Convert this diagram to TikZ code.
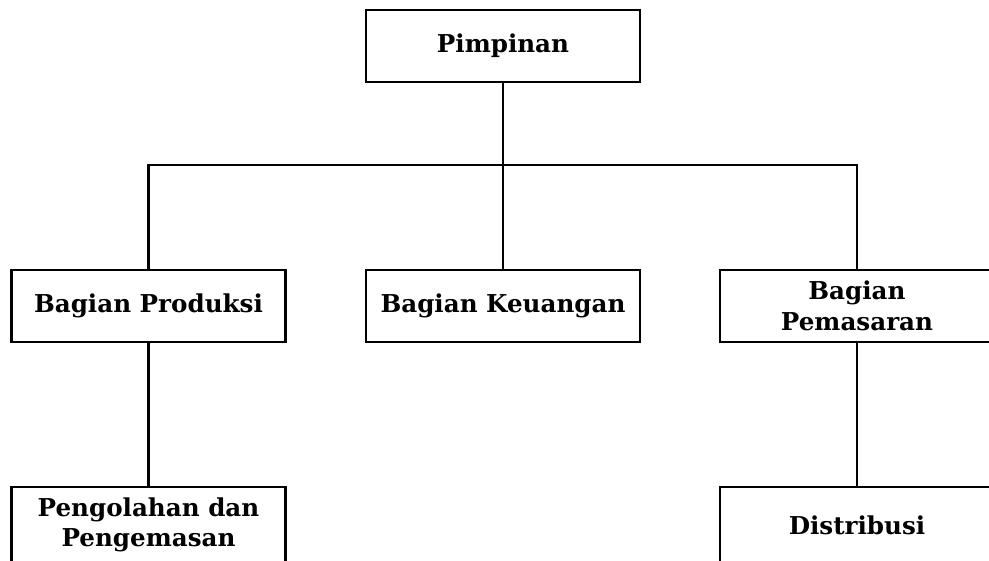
\documentclass[tikz,border=0pt]{standalone}
\usepackage{fontspec}
\setmainfont{DejaVu Serif}
\usetikzlibrary{positioning}
\tikzset{
  kotak/.style={draw, line width=1.2pt, minimum width=5.48cm, minimum height=1.44cm,
    align=center, font=\bfseries\fontsize{14}{17.5}\selectfont, inner sep=2pt},
  garis/.style={line width=1.2pt}
}

\begin{document}
\begin{tikzpicture}
\useasboundingbox (0,0) rectangle (19.78,-11.2);
\clip (0,0) rectangle (19.78,-11.2);
% pimpinan
\node[kotak] (pim) at (10.06,-0.92) {Pimpinan};
% bagian
\node[kotak] (prod) at (2.97,-6.12) {Bagian Produksi};
\node[kotak] (keu) at (10.06,-6.12) {Bagian Keuangan};
\node[kotak] (pem) at (17.14,-6.12) {Bagian\\Pemasaran};
% bawah
\node[kotak, minimum height=1.52cm] (olah) at (2.97,-10.5) {Pengolahan dan\\Pengemasan};
\node[kotak, minimum height=1.52cm] (dist) at (17.14,-10.5) {Distribusi};

\coordinate (bus) at (10.06,-3.3);
\draw[garis] (pim.south) -- (keu.north);
\draw[garis] (prod.north) |- (bus) -| (pem.north);
\draw[garis] (prod.south) -- (olah.north);
\draw[garis] (pem.south) -- (dist.north);
\end{tikzpicture}
\end{document}
